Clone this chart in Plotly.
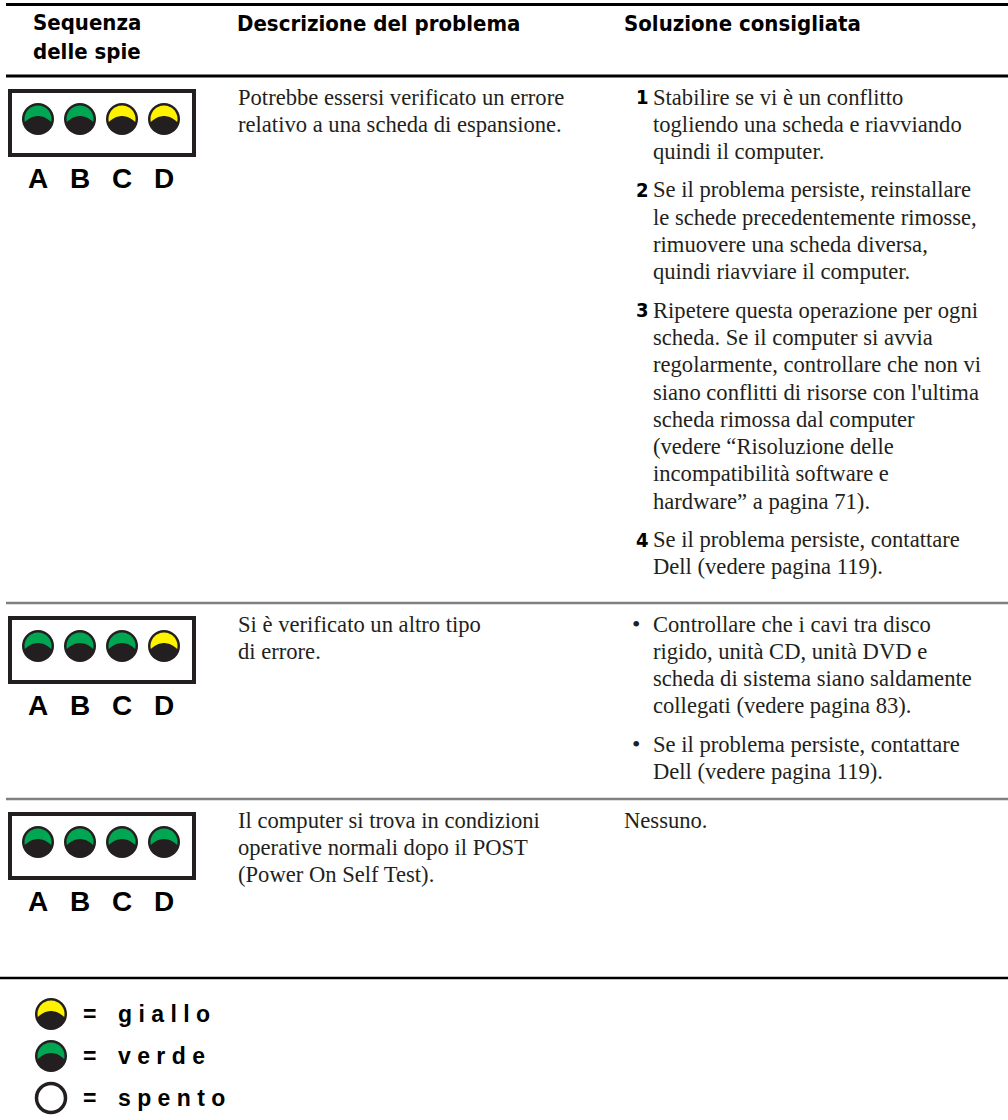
import numpy as np
import plotly.graph_objects as go

# ---------------- data ----------------
header_labels = ["Sequenza<br>delle spie", "Descrizione del problema", "Soluzione consigliata"]
led_letters = ["A", "B", "C", "D"]

row_leds = [
    ["green", "green", "yellow", "yellow"],
    ["green", "green", "green", "yellow"],
    ["green", "green", "green", "green"],
]

row_desc = [
    ["Potrebbe essersi verificato un errore", "relativo a una scheda di espansione."],
    ["Si è verificato un altro tipo", "di errore."],
    ["Il computer si trova in condizioni", "operative normali dopo il POST", "(Power On Self Test)."],
]

row_solution_markers = [
    ["1", "2", "3", "4"],
    ["•", "•"],
    [""],
]
row_solution_paras = [
    [
        ["Stabilire se vi è un conflitto", "togliendo una scheda e riavviando", "quindi il computer."],
        ["Se il problema persiste, reinstallare", "le schede precedentemente rimosse,",
         "rimuovere una scheda diversa,", "quindi riavviare il computer."],
        ["Ripetere questa operazione per ogni", "scheda. Se il computer si avvia",
         "regolarmente, controllare che non vi", "siano conflitti di risorse con l'ultima",
         "scheda rimossa dal computer", "(vedere “Risoluzione delle",
         "incompatibilità software e", "hardware” a pagina 71)."],
        ["Se il problema persiste, contattare", "Dell (vedere pagina 119)."],
    ],
    [
        ["Controllare che i cavi tra disco", "rigido, unità CD, unità DVD e",
         "scheda di sistema siano saldamente", "collegati (vedere pagina 83)."],
        ["Se il problema persiste, contattare", "Dell (vedere pagina 119)."],
    ],
    [
        ["Nessuno."],
    ],
]

legend_states = ["yellow", "green", "off"]
legend_words = ["g i a l l o", "v e r d e", "s p e n t o"]

# ---------------- style / layout ----------------
W, H = 1008, 1120
DARK = "#231f20"
COLORS = {"green": "#00a651", "yellow": "#fff200"}
SERIF = "Liberation Serif"
HEAD = "DejaVu Sans Condensed, DejaVu Sans"
SANS = "Liberation Sans"
BODY_SIZE = 22.6

row_tops = [76, 603, 799]
legend_line_y = 978
LINE_H = 27.3
PARA_GAP = 11

fig = go.Figure()
shapes = []
annots = []


def hline(y, color, width, x0=6, x1=W):
    shapes.append(dict(type="line", xref="x", yref="y", x0=x0, x1=x1, y0=y, y1=y,
                       line=dict(color=color, width=width)))


def text(x, y, s, size, family, color=DARK, weight="normal", xanchor="left"):
    annots.append(dict(x=x, y=y, xref="x", yref="y", text=s, showarrow=False,
                       xanchor=xanchor, yanchor="middle", align="left",
                       borderpad=0, borderwidth=0,
                       font=dict(family=family, size=size, color=color, weight=weight)))


def led(cx, cy, state, r=16):
    if state == "off":
        shapes.append(dict(type="circle", xref="x", yref="y", x0=cx - r + 1.5, x1=cx + r - 1.5,
                           y0=cy - r + 1.5, y1=cy + r - 1.5, fillcolor="white",
                           line=dict(color=DARK, width=3.5)))
        return
    shapes.append(dict(type="circle", xref="x", yref="y", x0=cx - r, x1=cx + r,
                       y0=cy - r, y1=cy + r, fillcolor=DARK, line=dict(width=0)))
    ri = r - 2.5
    d = 3.0
    th0 = -np.arcsin(d / ri)
    th = np.linspace(th0, np.pi - th0, 40)
    xs = cx + ri * np.cos(th)
    ys = cy - ri * np.sin(th)
    xl, yl = xs[-1], ys[-1]
    xr, yr = xs[0], ys[0]
    t = np.linspace(0, 1, 20)
    qcx, qcy = cx, cy - 9
    bx = (1 - t) ** 2 * xl + 2 * (1 - t) * t * qcx + t ** 2 * xr
    by = (1 - t) ** 2 * yl + 2 * (1 - t) * t * qcy + t ** 2 * yr
    px = np.concatenate([xs, bx])
    py = np.concatenate([ys, by])
    path = "M " + " L ".join(f"{a:.2f},{b:.2f}" for a, b in zip(px, py)) + " Z"
    shapes.append(dict(type="path", xref="x", yref="y", path=path,
                       fillcolor=COLORS[state], line=dict(width=0)))


# header
hline(4.5, "black", 3)
hline(row_tops[0], "black", 3)
text(33, 37, header_labels[0], 22, HEAD, color="black", weight="bold")
text(237, 23, header_labels[1], 22, HEAD, color="black", weight="bold")
text(624, 23, header_labels[2], 22, HEAD, color="black", weight="bold")

led_x = [38, 80, 122, 164]

for i, top in enumerate(row_tops):
    if i > 0:
        hline(top, "#808080", 2.5)
    shapes.append(dict(type="rect", xref="x", yref="y", x0=10, x1=194, y0=top + 15,
                       y1=top + 79, fillcolor="white", line=dict(color=DARK, width=4)))
    cy = top + 43
    for lx, st in zip(led_x, row_leds[i]):
        led(lx, cy, st)
    for lx, letter in zip(led_x, led_letters):
        text(lx, top + 102, letter, 28, SANS, color="black", weight="bold", xanchor="center")
    y = top + 21
    for ln in row_desc[i]:
        text(238, y, ln, BODY_SIZE, SERIF)
        y += LINE_H
    y = top + 21
    for mk, para in zip(row_solution_markers[i], row_solution_paras[i]):
        if mk == "":
            xt = 624
        else:
            xt = 653
            if mk == "•":
                text(632, y, mk, 24, SERIF)
            else:
                text(636, y, mk, 20, HEAD, color="black", weight="bold")
        for ln in para:
            text(xt, y, ln, BODY_SIZE, SERIF)
            y += LINE_H
        y += PARA_GAP

# legend
hline(legend_line_y, "black", 2.5, x0=0)
legend_y = [1014, 1056, 1098]
for ly, st, word in zip(legend_y, legend_states, legend_words):
    led(51, ly, st)
    text(83, ly, "=", 23, SANS, color="black", weight="bold")
    text(118, ly, word, 23, SANS, color="black", weight="bold")

fig.update_layout(
    width=W, height=H,
    margin=dict(l=0, r=0, t=0, b=0),
    paper_bgcolor="white", plot_bgcolor="white",
    xaxis=dict(range=[0, W], visible=False, fixedrange=True),
    yaxis=dict(range=[H, 0], visible=False, fixedrange=True),
    shapes=shapes, annotations=annots, showlegend=False,
)
fig.write_html("out.html", config={"displayModeBar": False},
               post_script="document.body.style.margin='0';document.body.style.overflow='hidden';")
